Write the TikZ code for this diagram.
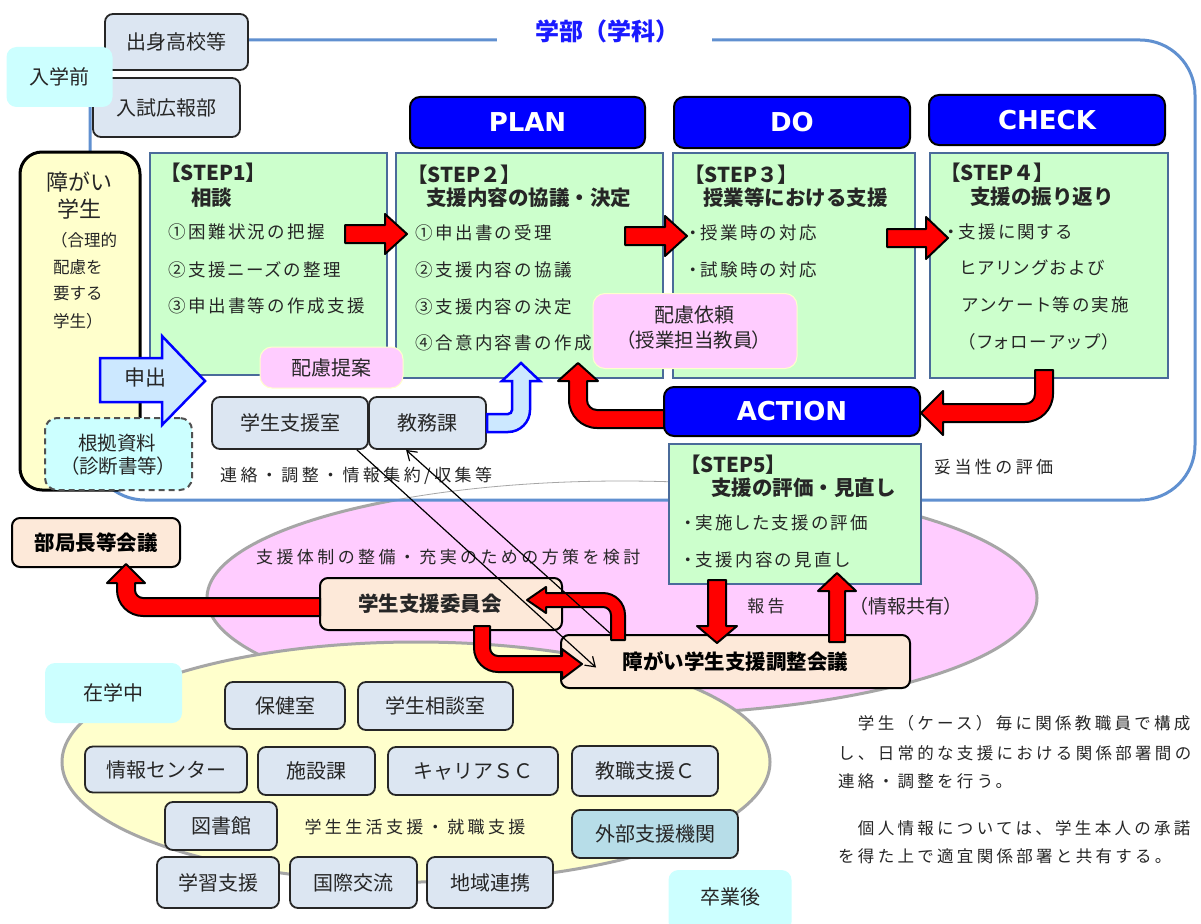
\documentclass[tikz,border=0pt]{standalone}
\usepackage{fontspec}
\setmainfont{Noto Sans CJK JP}
\newfontfamily\pf{Noto Sans CJK JP}[RawFeature=+palt]
\newfontfamily\spcf{Noto Sans CJK JP}[LetterSpace=20]
\newfontfamily\stepf{Noto Sans CJK JP}[RawFeature=+palt,LetterSpace=14]
\newfontfamily\hdf{DejaVu Sans}
\usetikzlibrary{arrows.meta}
\newcommand\fsz[1]{\fontsize{#1}{#1}\selectfont}
\definecolor{hdblue}{HTML}{0000FF}
\definecolor{stepfill}{HTML}{CCFFCC}
\definecolor{stepline}{HTML}{4A6B9A}
\definecolor{framecol}{HTML}{6090D0}
\definecolor{grayfill}{HTML}{DCE6F2}
\definecolor{boxline}{HTML}{262626}
\definecolor{cyanfill}{HTML}{CCFFFF}
\definecolor{pinkfill}{HTML}{FFCCFF}
\definecolor{peach}{HTML}{FDE9D9}
\definecolor{yellowfill}{HTML}{FFFFCC}
\definecolor{ellline}{HTML}{A6A6A6}
\definecolor{tealfill}{HTML}{B7DDE8}
\definecolor{lbluefill}{HTML}{CCE8FF}
\definecolor{titleblue}{HTML}{1A1AFF}
\definecolor{txtcol}{HTML}{262626}
\tikzset{
  tx/.style={inner sep=0pt, text=txtcol},
  grybox/.style={draw=boxline, line width=1.8pt, fill=grayfill, rounded corners=8pt, inner sep=0pt, font=\fsz{20}, text=txtcol},
  cyanbox/.style={fill=cyanfill, rounded corners=10pt, inner sep=0pt, font=\fsz{20}, text=txtcol},
  ybox/.style={draw=black, line width=3pt, fill=yellowfill, rounded corners=22pt, inner sep=0pt},
  dashbox/.style={draw=boxline!80, line width=2pt, dash pattern=on 6pt off 4pt, fill=cyanfill, rounded corners=12pt, inner sep=0pt},
  stepbox/.style={draw=stepline, line width=2.5pt, fill=stepfill, inner sep=0pt},
  hdbox/.style={draw=black, line width=2pt, fill=hdblue, rounded corners=10pt, inner sep=0pt, text=white, font=\hdf\bfseries\fsz{26}},
  pinkbox/.style={draw=yellowfill, line width=1pt, fill=pinkfill, rounded corners=12pt, inner sep=0pt, text=txtcol},
  peachbox/.style={draw=black, line width=2pt, fill=peach, rounded corners=8pt, inner sep=0pt, font=\bfseries\fsz{20.5}},
  redarr/.style={fill=red, draw=black, line width=2pt, line join=round},
  bluearr/.style={fill=lbluefill, draw=hdblue, line width=2.5pt, line join=miter},
  thinarr/.style={draw=black, line width=1.2pt, -{Straight Barb[length=9pt,width=12pt,line width=1.2pt]}},
  ttl/.style={tx, anchor=west, font=\bfseries\fsz{20.5}},
  itm/.style={tx, anchor=west, font=\stepf\fsz{17.5}},
  rtxt/.style={tx, anchor=west, font=\spcf\fsz{16.5}}
}
\begin{document}
\begin{tikzpicture}[x=1pt,y=-1pt]
\useasboundingbox (0,0) rectangle (1201,923);
\fill[white] (0,0) rectangle (1201,923);
% ellipses and frame
\draw[fill=pinkfill, draw=ellline, line width=3pt] (622,598) ellipse [x radius=415, y radius=117];
\draw[framecol, line width=3pt, fill=white, rounded corners=55pt] (90,40) rectangle (1195,500);
\begin{scope}
\clip (0,0) rectangle (1201,498);
\draw[ellline, line width=0.8pt] (622,598) ellipse [x radius=415, y radius=117];
\end{scope}
\fill[white] (497,30) rectangle (712,50);
\node[tx, font=\bfseries\fsz{24}, text=titleblue] (title) at (607,31) {学部（学科）};
\draw[fill=yellowfill, draw=ellline, line width=3pt] (416,762) ellipse [x radius=354, y radius=120];

% before admission
\node[grybox, minimum width=143, minimum height=56] (shusshin) at (176.5,42) {出身高校等};
\node[grybox, minimum width=147, minimum height=59] (nyushi) at (166.5,107.5) {入試広報部};
\node[cyanbox, minimum width=106, minimum height=60] (mae) at (59.5,77) {入学前};

% student box
\node[ybox, minimum width=120, minimum height=338] (gakusei) at (80,321) {};
\node[tx, font=\fsz{22}] (g1) at (79,182) {障がい};
\node[tx, font=\fsz{22}] (g2) at (79,209) {学生};
\node[tx, anchor=west, font=\fsz{16.5}] (g3) at (51,240) {（合理的};
\node[tx, anchor=west, font=\fsz{16.5}] (g4) at (53,267) {配慮を};
\node[tx, anchor=west, font=\fsz{16.5}] (g5) at (53,294) {要する};
\node[tx, anchor=west, font=\fsz{16.5}] (g6) at (53,321) {学生）};
\node[dashbox, minimum width=147, minimum height=72] (konkyo) at (118.5,454) {};
\node[tx, font=\fsz{19.5}] (k1) at (117,443) {根拠資料};
\node[tx, font=\pf\fsz{19.5}] (k2) at (118,466) {（診断書等）};

% step boxes
\node[stepbox, minimum width=237, minimum height=222] (s1) at (268.5,264) {};
\node[stepbox, minimum width=267, minimum height=225] (s2) at (529.5,265.5) {};
\node[stepbox, minimum width=242, minimum height=225] (s3) at (794,265.5) {};
\node[stepbox, minimum width=238, minimum height=225] (s4) at (1049,265.5) {};
\node[stepbox, minimum width=252, minimum height=140] (s5) at (795,514) {};
\node[hdbox, minimum width=235, minimum height=51] (plan) at (527.5,122.5) {PLAN};
\node[hdbox, minimum width=236, minimum height=51] (do) at (792,122.5) {DO};
\node[hdbox, minimum width=236, minimum height=50] (check) at (1047,120) {CHECK};
\node[hdbox, minimum width=256, minimum height=49] (action) at (792,411.5) {ACTION};

\node[ttl] (s1a) at (160,173) {【STEP1】};
\node[ttl] (s1b) at (191,198) {相談};
\node[itm] (s1c) at (168,232) {①困難状況の把握};
\node[itm] (s1d) at (168,270) {②支援ニーズの整理};
\node[itm] (s1e) at (168,306) {③申出書等の作成支援};

\node[ttl] (s2a) at (407,175) {【STEP２】};
\node[ttl] (s2b) at (426,198) {支援内容の協議・決定};
\node[itm] (s2c) at (415,233) {①申出書の受理};
\node[itm] (s2d) at (415,270) {②支援内容の協議};
\node[itm] (s2e) at (415,307) {③支援内容の決定};
\node[itm] (s2f) at (415,343) {④合意内容書の作成};

\node[ttl] (s3a) at (684,175) {【STEP３】};
\node[ttl] (s3b) at (703,198) {授業等における支援};
\node[itm] (s3c) at (689,233) {・授業時の対応};
\node[itm] (s3d) at (689,270) {・試験時の対応};

\node[ttl] (s4a) at (940,173) {【STEP４】};
\node[ttl] (s4b) at (970,197) {支援の振り返り};
\node[itm] (s4c) at (947,232) {・支援に関する};
\node[itm] (s4d) at (960,268) {ヒアリングおよび};
\node[itm] (s4e) at (962,305) {アンケート等の実施};
\node[itm] (s4f) at (966,342) {（フォローアップ）};

\node[ttl] (s5a) at (680,465) {【STEP5】};
\node[ttl] (s5b) at (711,488) {支援の評価・見直し};
\node[itm] (s5c) at (684,523) {・実施した支援の評価};
\node[itm] (s5d) at (684,560) {・支援内容の見直し};

% pink boxes
\node[pinkbox, minimum width=204, minimum height=75] (irai) at (695,331) {};
\node[tx, font=\fsz{20}] (irai1) at (694,315) {配慮依頼};
\node[tx, font=\pf\fsz{19.5}] (irai2) at (694,340) {（授業担当教員）};
\node[pinkbox, minimum width=143, minimum height=41, font=\fsz{20}] (teian) at (331.5,367.5) {配慮提案};

% office boxes
\node[grybox, minimum width=156, minimum height=52] (shitsu) at (290,423) {学生支援室};
\node[grybox, minimum width=117, minimum height=52] (kyomu) at (427.5,423) {教務課};
\node[tx, anchor=west, font=\spcf\fsz{17}] (renraku) at (220,476) {連絡・調整・情報集約/収集等};
\node[tx, anchor=west, font=\spcf\fsz{17}] (hosaku) at (256,557) {支援体制の整備・充実のための方策を検討};
\node[tx, anchor=west, font=\spcf\fsz{17}] (datou) at (934,467) {妥当性の評価};
\node[tx, font=\spcf\fsz{17}] (hokoku) at (766,606) {報告};
\node[tx, font=\pf\fsz{19}] (kyoyu) at (906,606) {（情報共有）};

% meetings
\node[peachbox, minimum width=168, minimum height=49] (bukyoku) at (96,542.5) {部局長等会議};
\node[peachbox, minimum width=242, minimum height=52] (iinkai) at (441,604) {};
\node[tx, font=\bfseries\fsz{20.5}] (iinkait) at (430,604) {学生支援委員会};
\node[peachbox, minimum width=349, minimum height=53] (chosei) at (735.5,661.5) {障がい学生支援調整会議};

% campus offices
\node[cyanbox, minimum width=137, minimum height=60] (zai) at (113.5,693) {在学中};
\node[grybox, minimum width=120, minimum height=47] (hoken) at (285,705.5) {保健室};
\node[grybox, minimum width=155, minimum height=48] (sodan) at (435.5,706) {学生相談室};
\node[grybox, minimum width=162, minimum height=46] (joho) at (166,769.5) {情報センター};
\node[grybox, minimum width=117, minimum height=48] (shisetsu) at (316.5,771) {施設課};
\node[grybox, minimum width=170, minimum height=48] (career) at (473,771) {キャリアＳＣ};
\node[grybox, minimum width=146, minimum height=50] (kyoshoku) at (645,771) {教職支援Ｃ};
\node[grybox, minimum width=112, minimum height=48] (tosho) at (221,826) {図書館};
\node[tx, font=\spcf\fsz{17}] (seikatsu) at (415,827) {学生生活支援・就職支援};
\node[grybox, fill=tealfill, minimum width=166, minimum height=48] (gaibu) at (655,834) {外部支援機関};
\node[grybox, minimum width=122, minimum height=51] (gakushu) at (218,882.5) {学習支援};
\node[grybox, minimum width=127, minimum height=51] (kokusai) at (353.5,882.5) {国際交流};
\node[grybox, minimum width=126, minimum height=51] (chiiki) at (490,882.5) {地域連携};
\node[cyanbox, minimum width=123, minimum height=62] (sotsu) at (730,901) {};
\node[tx, font=\fsz{20}] (sotsut) at (730,897) {卒業後};

% right notes
\node[rtxt] (r1) at (838,723) {　学生（ケース）毎に関係教職員で構成};
\node[rtxt] (r2) at (838,753) {し、日常的な支援における関係部署間の};
\node[rtxt] (r3) at (838,781) {連絡・調整を行う。};
\node[rtxt] (r4) at (838,828) {　個人情報については、学生本人の承諾};
\node[rtxt] (r5) at (838,856) {を得た上で適宜関係部署と共有する。};

% block arrows
\draw[bluearr] (100,358) -- (162,358) -- (162,336) -- (205,381) -- (162,425) -- (162,402) -- (100,402) -- cycle;
\node[tx, font=\fsz{21}] (moshide) at (145,378) {申出};

\draw[redarr] (345,225) -- (385,225) -- (385,214) -- (407,234) -- (385,254) -- (385,243) -- (345,243) -- cycle;
\draw[redarr] (625,227) -- (665,227) -- (665,216) -- (687,236) -- (665,256) -- (665,245) -- (625,245) -- cycle;
\draw[redarr] (887,229) -- (926,229) -- (926,217) -- (948,238) -- (926,259) -- (926,247) -- (887,247) -- cycle;

\draw[redarr] (1035,370) -- (1053,370) -- (1053,394) arc[start angle=0,end angle=90,radius=28] -- (943,422) -- (943,435) -- (921,413) -- (943,391) -- (943,404) -- (1025,404) arc[start angle=90,end angle=0,radius=10] -- cycle;
\draw[redarr] (664,410) -- (597,410) arc[start angle=90,end angle=180,radius=10] -- (587,381) -- (598,381) -- (578,363) -- (558,381) -- (569,381) -- (569,400) arc[start angle=180,end angle=90,radius=28] -- (664,428) -- cycle;
\draw[bluearr] (487,414) -- (508,414) arc[start angle=90,end angle=0,radius=4] -- (512,381) -- (502,381) -- (521,363) -- (540,381) -- (530,381) -- (530,410) arc[start angle=0,end angle=90,radius=22] -- (487,432) -- cycle;

\draw[redarr] (320,598) -- (143,598) arc[start angle=90,end angle=180,radius=8] -- (135,583) -- (145,583) -- (126,564) -- (107,583) -- (117,583) -- (117,590) arc[start angle=180,end angle=90,radius=26] -- (320,616) -- cycle;
\draw[redarr] (474,626) -- (474,648) arc[start angle=180,end angle=90,radius=24] -- (562,672) -- (562,679) -- (582,664) -- (562,649) -- (562,656) -- (498,656) arc[start angle=90,end angle=180,radius=8] -- (490,626) -- cycle;
\draw[redarr] (611,640) -- (611,615) arc[start angle=0,end angle=-90,radius=8] -- (546,607) -- (546,613) -- (527,600) -- (546,587) -- (546,593) -- (603,593) arc[start angle=-90,end angle=0,radius=22] -- (625,640) -- cycle;
\draw[redarr] (708,580) -- (726,580) -- (726,626) -- (737,626) -- (717,643) -- (697,626) -- (708,626) -- cycle;
\draw[redarr] (829,642) -- (829,591) -- (818,591) -- (837,573) -- (856,591) -- (845,591) -- (845,642) -- cycle;

% thin connectors
\draw[thinarr] ([xshift=-12pt]shitsu.south east) -- ([xshift=36pt,yshift=-6pt]chosei.west);
\draw[thinarr] ([xshift=51pt]chosei.north west) -- ([xshift=38pt]kyomu.south west);
\end{tikzpicture}
\end{document}
